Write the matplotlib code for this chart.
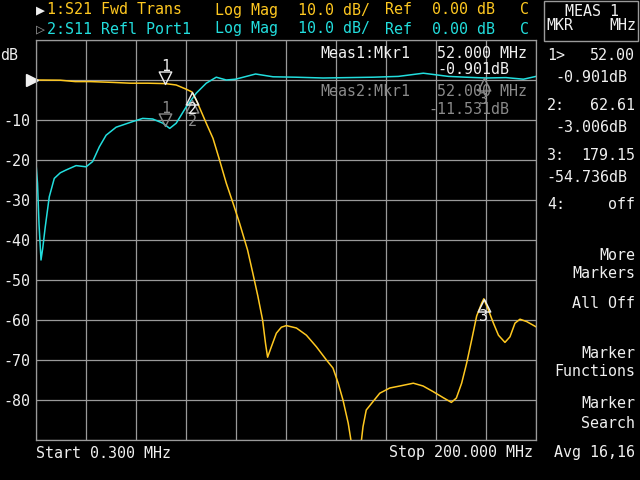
import matplotlib
matplotlib.use("Agg")
import matplotlib.pyplot as plt
import matplotlib.transforms as mtransforms
from matplotlib.path import Path
import numpy as np

# S21 forward transmission (MHz, dB)
S21_FREQ = [0.3, 10, 16, 22, 31, 38, 45, 52, 56.3, 60.3, 62.61, 64.3, 66.3, 68.3, 71, 73.6,
            76.3, 79, 81.6, 84.8, 86.9, 88.9, 90.8, 92.0, 92.8, 94.3, 96.3, 98.3, 100.3,
            104.3, 108.3, 112.3, 116.3, 118.9, 121, 122.9, 125, 126.2, 130.2, 130.9, 132.2,
            134.9, 137.6, 141.6, 145.6, 151, 154.9, 158.9, 162.9, 166.2, 168.2, 170.3,
            172.3, 174.3, 176.3, 178.3, 179.15, 181, 183, 185, 187.6, 189.6, 191.6, 193.6,
            196.3, 200]
S21_DB = [0.0, -0.05, -0.4, -0.4, -0.6, -0.8, -0.8, -0.9, -1.25, -2.3, -3.0, -5.0, -7.9,
          -10.8, -14.6, -20.0, -25.8, -30.8, -35.8, -42.5, -48.3, -54.0, -60.0, -66.0,
          -69.3, -66.7, -63.3, -61.8, -61.4, -62.0, -63.8, -66.7, -70.0, -72.0, -75.8,
          -80.0, -85.8, -90.5, -90.5, -86.7, -82.5, -80.4, -78.3, -77.0, -76.5, -75.8,
          -76.5, -77.9, -79.4, -80.6, -79.5, -75.8, -70.8, -65.0, -59.0, -55.8, -54.7,
          -57.5, -60.8, -63.8, -65.6, -64.2, -60.8, -59.8, -60.4, -61.7]

# S11 reflection port 1 (MHz, dB)
S11_FREQ = [0.3, 0.9, 1.5, 2.3, 3.0, 4.0, 5.6, 7.6, 10, 12.3, 16.3, 20.3, 22.9, 25.6, 28.3,
            32.3, 38.9, 42.9, 46.9, 51, 53.7, 56.3, 60.3, 64.3, 68.3, 72.3, 76.3, 80, 88,
            95, 104, 115, 125, 135, 145, 155, 165, 172, 180, 188, 195, 200]
S11_DB = [-20.8, -25.8, -36.0, -45.0, -42.0, -36.7, -29.2, -24.6, -23.2, -22.5, -21.4, -21.7,
          -20.4, -16.7, -13.8, -11.8, -10.4, -9.6, -9.75, -10.8, -12.1, -10.8, -6.7, -3.3,
          -0.8, 0.7, 0.0, 0.2, 1.5, 0.8, 0.7, 0.5, 0.6, 0.7, 0.9, 1.7, 0.9, 0.7, 0.5, 0.6,
          0.2, 0.9]

MKR_FREQ = [52.0, 62.61, 179.15]
S21_MKR = [-0.901, -3.006, -54.736]
S11_MKR = [-11.531, -5.0, 0.4]

YEL = "#ffc820"
CYN = "#22dede"
GRID = "#9a9a9a"
DIM = "#8a8a8a"
WHITE = "#f0f0f0"

FONT = ["DejaVu Sans Mono", "DejaVu Sans"]
FS = 10.8
W, H = 640, 480

fig = plt.figure(figsize=(6.4, 4.8), dpi=100, facecolor="black")
ax = fig.add_axes([36 / W, 40 / H, 500 / W, 400 / H], facecolor="black")


def ftxt(x, y, s, color=WHITE, ha="left"):
    fig.text(x / W, 1 - y / H, s, color=color, ha=ha, va="center",
             fontsize=FS, family=FONT)


ax.set_xlim(0.3, 200)
ax.set_ylim(-90, 10)
ax.set_xticks(np.linspace(0.3, 200, 11))
ax.set_xticklabels([])
yt = list(range(-90, 11, 10))
ax.set_yticks(yt)
ax.set_yticklabels([str(v) if -80 <= v <= -10 else "" for v in yt],
                   color=WHITE, fontsize=FS, family=FONT)
ax.tick_params(length=0, pad=4)
ax.grid(True, color=GRID, lw=0.9)
for sp in ax.spines.values():
    sp.set_color(GRID)
    sp.set_linewidth(0.9)

ax.plot(S11_FREQ, S11_DB, color=CYN, lw=1.1, clip_on=True)
ax.plot(S21_FREQ, S21_DB, color=YEL, lw=1.1, clip_on=True)

# reference pointer at 0 dB
bt = mtransforms.blended_transform_factory(ax.transAxes, ax.transData)
ax.plot([-0.009], [0], marker=">", ms=9, color=WHITE, transform=bt, clip_on=False)

# marker triangles: apex on trace
down = Path([(-1, 2), (1, 2), (0, 0), (-1, 2)], [1, 2, 2, 79])
up = Path([(-1, -2), (1, -2), (0, 0), (-1, -2)], [1, 2, 2, 79])
for i, (f, a, b) in enumerate(zip(MKR_FREQ, S21_MKR, S11_MKR)):
    shape = down if i == 0 else up
    off = 4.4 if i == 0 else -4.4
    ax.plot([f], [b], marker=shape, ms=18, mfc="none", mec=DIM, mew=1.0)
    ax.text(f, b + off * (1.0 if i == 0 else 1.2), str(i + 1), color=DIM,
            ha="center", va="center", fontsize=FS, family=FONT)
    ax.plot([f], [a], marker=shape, ms=18, mfc="none", mec=WHITE, mew=1.0)
    ax.text(f, a + off, str(i + 1), color=WHITE, ha="center", va="center",
            fontsize=FS, family=FONT)

# marker readouts inside the grid
ftxt(320, 53, "Meas1:Mkr1")
ftxt(437, 53, "52.000 MHz")
ftxt(437, 70, "-0.901dB")
ftxt(320, 92, "Meas2:Mkr1", color=DIM)
ftxt(437, 92, "52.000 MHz", color=DIM)
ftxt(428, 110, "-11.531dB", color=DIM)

# header
ftxt(36, 10, "\u25b6")
ftxt(47, 10, "1:S21 Fwd Trans", color=YEL)
ftxt(215, 10, "Log Mag", color=YEL)
ftxt(298, 10, "10.0 dB/", color=YEL)
ftxt(385, 10, "Ref", color=YEL)
ftxt(432, 10, "0.00 dB", color=YEL)
ftxt(520, 10, "C", color=YEL)
ftxt(36, 29, "\u25b7", color=DIM)
ftxt(47, 29, "2:S11 Refl Port1", color=CYN)
ftxt(215, 29, "Log Mag", color=CYN)
ftxt(298, 29, "10.0 dB/", color=CYN)
ftxt(385, 29, "Ref", color=CYN)
ftxt(432, 29, "0.00 dB", color=CYN)
ftxt(520, 29, "C", color=CYN)

ftxt(0, 55, "dB")
ftxt(36, 453, "Start 0.300 MHz")
ftxt(533, 453, "Stop 200.000 MHz", ha="right")

# right soft-key panel
fig.patches.append(plt.Rectangle((544 / W, 1 - 41 / H), 94 / W, 40 / H, fill=False,
                                 edgecolor=GRID, lw=1.0, transform=fig.transFigure))
ftxt(592, 11, "MEAS 1", ha="center")
ftxt(546, 25, "MKR")
ftxt(636, 25, "MHz", ha="right")
ftxt(547, 55, "1>")
ftxt(635, 55, "52.00", ha="right")
ftxt(627, 77, "-0.901dB", ha="right")
ftxt(547, 106, "2:")
ftxt(635, 106, "62.61", ha="right")
ftxt(627, 127, "-3.006dB", ha="right")
ftxt(547, 156, "3:")
ftxt(635, 156, "179.15", ha="right")
ftxt(627, 177, "-54.736dB", ha="right")
ftxt(547, 205, "4:")
ftxt(635, 205, "off", ha="right")
ftxt(635, 255, "More", ha="right")
ftxt(635, 273, "Markers", ha="right")
ftxt(635, 304, "All Off", ha="right")
ftxt(635, 354, "Marker", ha="right")
ftxt(635, 372, "Functions", ha="right")
ftxt(635, 404, "Marker", ha="right")
ftxt(635, 423, "Search", ha="right")
ftxt(635, 453, "Avg 16,16", ha="right")

fig.savefig("out.png", dpi=100, facecolor="black")
